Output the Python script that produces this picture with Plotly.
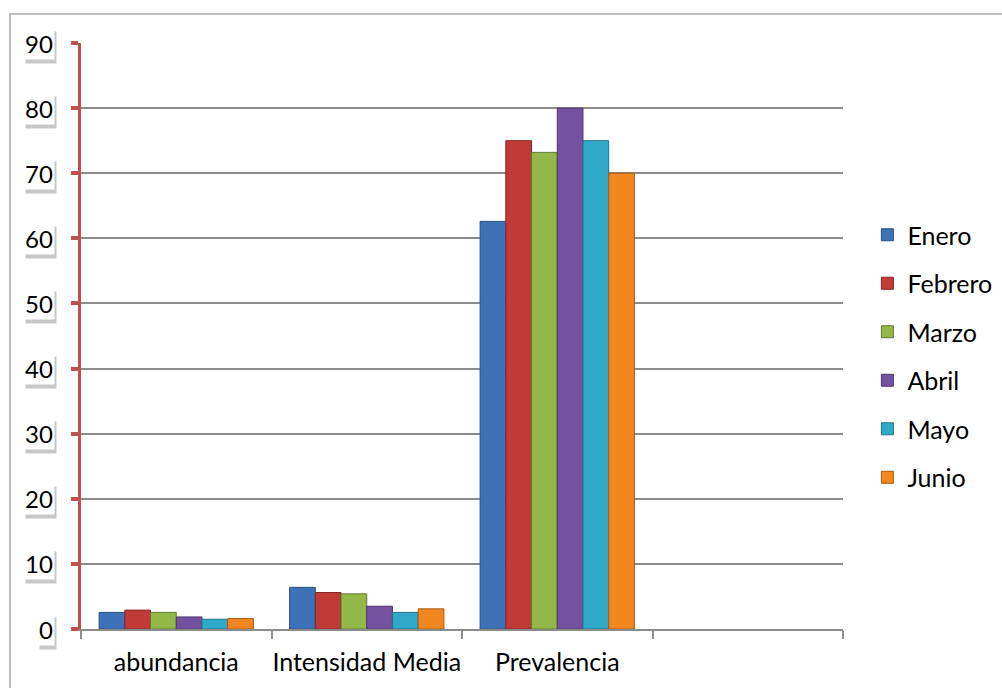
import plotly.graph_objects as go

categories = ["abundancia", "Intensidad Media", "Prevalencia"]
all_slots = ["abundancia", "Intensidad Media", "Prevalencia", " "]
months = ["Enero", "Febrero", "Marzo", "Abril", "Mayo", "Junio"]
enero = [2.55, 6.4, 62.6]
febrero = [2.9, 5.6, 75.0]
marzo = [2.55, 5.4, 73.2]
abril = [1.85, 3.5, 80.0]
mayo = [1.5, 2.55, 75.0]
junio = [1.6, 3.1, 70.0]
series = [enero, febrero, marzo, abril, mayo, junio]
colors = ["#3E72B8", "#C03A37", "#92B847", "#7452A0", "#2EA9C7", "#F3871F"]
edge = ["#27507F", "#822523", "#5F7A2E", "#4E376E", "#1F7388", "#A85A12"]
y_ticks = [0, 10, 20, 30, 40, 50, 60, 70, 80, 90]

FONT = "Lato, 'Open Sans', sans-serif"

fig = go.Figure()
for name, vals, c, e in zip(months, series, colors, edge):
    fig.add_trace(go.Bar(
        x=categories, y=vals, name=name, legendgroup=name,
        marker=dict(color=c, line=dict(color=e, width=1)),
    ))

# y tick labels in boxes with soft shadow
LX = -0.034
for v in y_ticks:
    w = 14 * len(str(v)) + 2
    fig.add_annotation(x=LX, xref="paper", y=v, yref="y", text=" ",
                       showarrow=False, xanchor="right", yanchor="middle",
                       xshift=2, yshift=-4, width=w, height=31,
                       bgcolor="rgba(0,0,0,0.22)", borderpad=0)
    fig.add_annotation(x=LX, xref="paper", y=v, yref="y", text=str(v),
                       showarrow=False, xanchor="right", yanchor="middle",
                       width=w, height=31, align="center",
                       font=dict(family=FONT, size=24, color="black"),
                       bgcolor="white", borderpad=0)

# outer border
fig.add_shape(type="rect", xref="paper", yref="paper",
              x0=-0.0932, x1=2.0, y0=-0.5, y1=1.0495,
              line=dict(color="#A6A6A6", width=1.5), fillcolor="rgba(0,0,0,0)",
              layer="below")

fig.update_layout(
    width=1002, height=688,
    margin=dict(l=81, r=159, t=43, b=59, autoexpand=False),
    paper_bgcolor="white", plot_bgcolor="white",
    barmode="group", bargap=0.19, bargroupgap=0,
    font=dict(family=FONT, size=25, color="black"),
    legend=dict(x=1.032, xanchor="left", y=0.7116, yanchor="top",
                tracegroupgap=13, font=dict(size=25),
                itemwidth=30, bgcolor="rgba(0,0,0,0)"),
    showlegend=True,
)
fig.update_xaxes(
    type="category", categoryorder="array", categoryarray=all_slots,
    range=[-0.5, 3.5], showgrid=False, automargin=False, tickangle=0,
    showline=True, linecolor="#8C8C8C", linewidth=2,
    ticks="outside", tickson="boundaries", ticklen=8, tickwidth=2, tickcolor="#8C8C8C",
    ticklabelstandoff=10, tickfont=dict(size=25, family=FONT),
)
fig.update_yaxes(
    range=[0, 90], tickvals=y_ticks, showticklabels=False, automargin=False,
    showgrid=True, gridcolor="#8C8C8C", gridwidth=2,
    zeroline=False,
    showline=True, linecolor="#C0504D", linewidth=3,
    ticks="outside", ticklen=7, tickwidth=4, tickcolor="#C0504D",
)

fig.write_html("out.html")
